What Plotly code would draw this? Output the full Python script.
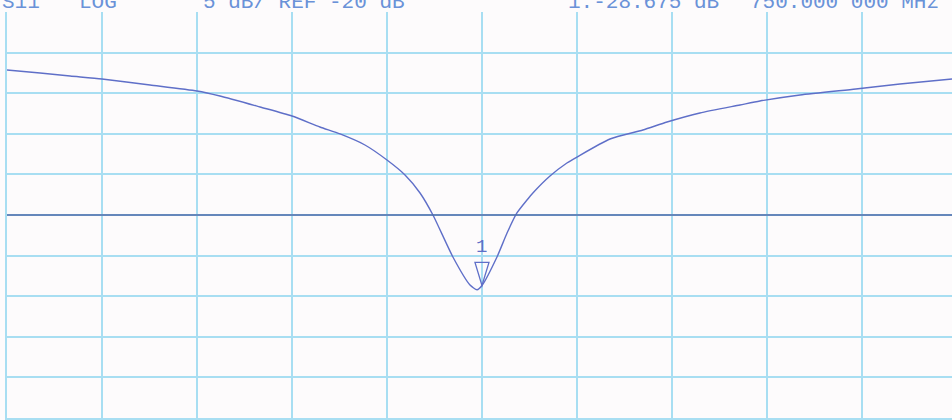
import plotly.graph_objects as go

# S11 trace (MHz, dB)
freq_mhz = [500.0, 517.4, 533.2, 550.0, 575.3, 600.0, 612.1, 633.2, 650.0, 664.7,
            675.3, 688.4, 700.0, 709.5, 717.4, 724.2, 734.7, 743.7, 747.4, 750.0,
            757.9, 763.2, 768.4, 773.7, 776.8, 785.8, 794.7, 800.0, 817.4, 834.7,
            847.4, 864.7, 885.8, 896.3, 917.4, 946.8, 970.0, 997.4]
s11_db = [-2.14, -2.51, -2.88, -3.25, -3.99, -4.73, -5.35, -6.70, -7.81, -9.16,
          -10.02, -11.38, -13.23, -15.07, -17.29, -20.0, -25.17, -28.62, -29.2, -28.68,
          -25.17, -22.22, -19.75, -18.15, -17.29, -15.2, -13.6, -12.86, -10.64, -9.53,
          -8.55, -7.44, -6.45, -5.96, -5.22, -4.48, -3.87, -3.25]

ref_db = -20
db_per_div = 5
marker_freq = 750.0
marker_db = -28.675

header = ["S11", "LOG", "5 dB/ REF -20 dB", "1:-28.675 dB", "750.000 000 MHz"]
header_x = [-0.0074, 0.0745, 0.2054, 0.5915, 0.784]

grid_col = "#a8def2"
text_col = "#6a92d8"
trace_col = "#5f6fc8"
font = "Liberation Mono"

fig = go.Figure()

fig.add_trace(go.Scatter(x=freq_mhz, y=s11_db, mode="lines",
                         line=dict(color=trace_col, width=1.4, shape="spline", smoothing=0.6),
                         hoverinfo="skip", showlegend=False))

# reference line
fig.add_hline(y=ref_db, line=dict(color="#4f6aa8", width=1.5))

# marker 1: tall open triangle with its tip on the trace, number on top
fig.add_shape(type="path", xref="x", yref="y", xsizemode="pixel", ysizemode="pixel",
              xanchor=marker_freq, yanchor=marker_db,
              path="M -7,23 L 7,23 L 0,0 Z",
              line=dict(color=trace_col, width=1.3))
fig.add_annotation(x=marker_freq, y=marker_db, xref="x", yref="y",
                   text="1", showarrow=False, yanchor="bottom", yshift=25,
                   font=dict(family=font, size=19, color=trace_col))

for txt, xp in zip(header, header_x):
    fig.add_annotation(x=xp, y=0.99, xref="paper", yref="paper", text=txt,
                       showarrow=False, xanchor="left", yanchor="bottom",
                       font=dict(family=font, size=21, color=text_col))

fig.update_layout(
    width=952, height=420,
    margin=dict(l=7, r=0, t=12, b=2),
    paper_bgcolor="#fdfbfc",
    plot_bgcolor="#fdfbfc",
    showlegend=False,
    xaxis=dict(range=[500, 997.4], tick0=500, dtick=50, showticklabels=False,
               gridcolor=grid_col, gridwidth=1.5, zeroline=False,
               showline=True, linecolor=grid_col, linewidth=1.5, ticks=""),
    yaxis=dict(range=[ref_db - 5 * db_per_div, ref_db + 5 * db_per_div],
               tick0=ref_db, dtick=db_per_div, showticklabels=False,
               gridcolor=grid_col, gridwidth=1.5, zeroline=False,
               showline=True, linecolor=grid_col, linewidth=1.5, ticks=""),
)

fig.write_html("out.html", config={"displayModeBar": False},
               post_script="document.body.style.margin='0';")
